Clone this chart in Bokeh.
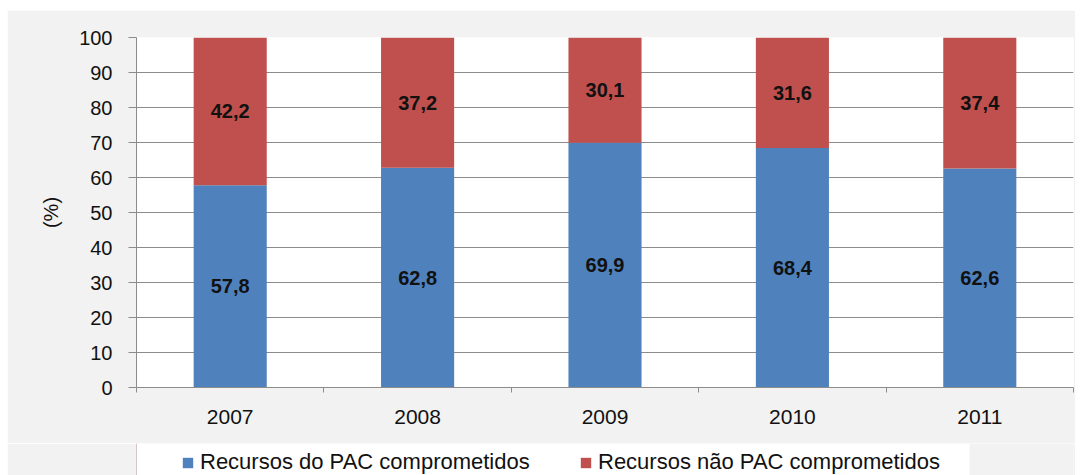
import numpy as np
from bokeh.plotting import figure
from bokeh.layouts import column
from bokeh.models import FixedTicker, Legend, LegendItem, ColumnDataSource, BoxAnnotation
from bokeh.core.properties import value
from bokeh.embed import file_html
from bokeh.resources import INLINE

years = ["2007", "2008", "2009", "2010", "2011"]
pac = [57.8, 62.8, 69.9, 68.4, 62.6]
nao_pac = [42.2, 37.2, 30.1, 31.6, 37.4]
y_ticks = [0, 10, 20, 30, 40, 50, 60, 70, 80, 90, 100]
series_names = ["Recursos do PAC comprometidos", "Recursos não PAC comprometidos"]

BLUE = "#4f81bd"
RED = "#c0504d"
FONT = "Liberation Sans"
TXT = "#111111"
BG = "#f2f2f2"
GRID = "#8c8c8c"

W, H, H_LEG = 1068, 433, 32
B_LEFT, B_RIGHT = 129, 2
FRAME_W = W - B_LEFT - B_RIGHT

xs = np.arange(len(years)) + 0.5
fmt = lambda v: f"{v:.1f}".replace(".", ",")

src = ColumnDataSource(dict(
    x=xs, pac=pac, nao=nao_pac,
    pac_mid=[v / 2 for v in pac],
    nao_mid=[a + b / 2 for a, b in zip(pac, nao_pac)],
    pac_lbl=[fmt(v) for v in pac],
    nao_lbl=[fmt(v) for v in nao_pac],
))

p = figure(width=W, height=H, x_range=(0, len(years)), y_range=(0, 100),
           output_backend="svg", toolbar_location=None,
           min_border_left=B_LEFT, min_border_right=B_RIGHT,
           min_border_top=27, min_border_bottom=56)
p.border_fill_color = BG
p.background_fill_color = "white"
p.outline_line_color = None

rs = p.vbar_stack(["pac", "nao"], x="x", width=0.39, source=src,
                  color=[BLUE, RED], line_color=None)

for ycol, lcol in (("pac_mid", "pac_lbl"), ("nao_mid", "nao_lbl")):
    p.text(x="x", y=ycol, text=lcol, source=src, text_align="center",
           text_baseline="middle", text_font=value(FONT), text_font_size="20px",
           text_font_style="bold", text_color=TXT)

# y axis
p.yaxis.ticker = FixedTicker(ticks=y_ticks)
p.yaxis.axis_label = "(%)"
p.yaxis.axis_label_text_font = FONT
p.yaxis.axis_label_text_font_size = "20px"
p.yaxis.axis_label_text_font_style = "normal"
p.yaxis.axis_label_text_color = TXT
p.yaxis.axis_label_standoff = 14
p.yaxis.major_label_text_font = FONT
p.yaxis.major_label_text_font_size = "20px"
p.yaxis.major_label_text_color = TXT
p.yaxis.major_label_standoff = 16
p.yaxis.major_tick_out = 8
p.yaxis.major_tick_in = 0
p.yaxis.minor_tick_line_color = None
p.yaxis.axis_line_color = GRID
p.yaxis.major_tick_line_color = GRID

# x axis (ticks at category boundaries, labels at centres)
p.xaxis.ticker = FixedTicker(ticks=list(xs), minor_ticks=list(range(len(years) + 1)))
p.xaxis.major_label_overrides = {float(x): y for x, y in zip(xs, years)}
p.xaxis.major_label_text_font = FONT
p.xaxis.major_label_text_font_size = "21px"
p.xaxis.major_label_text_color = TXT
p.xaxis.major_tick_line_color = None
p.xaxis.major_label_standoff = 16
p.xaxis.minor_tick_out = 5
p.xaxis.minor_tick_in = 0
p.xaxis.minor_tick_line_color = GRID
p.xaxis.axis_line_color = GRID

p.xgrid.grid_line_color = None
p.ygrid.grid_line_color = GRID
p.ygrid.grid_line_width = 1

# legend strip (same borders as the chart so frames line up; x in pixels)
pl = figure(width=W, height=H_LEG, x_range=(0, FRAME_W), y_range=(0, 1),
            x_axis_type=None, y_axis_type=None,
            output_backend="svg", toolbar_location=None,
            min_border_left=B_LEFT, min_border_right=B_RIGHT,
            min_border_top=0, min_border_bottom=0)
pl.border_fill_color = BG
pl.background_fill_color = BG
pl.outline_line_color = None
pl.xgrid.visible = False
pl.ygrid.visible = False
pl.add_layout(BoxAnnotation(left=0, right=833, fill_color="white", fill_alpha=1,
                            line_color=None))
r_blue = pl.vbar(x=[-50], top=[5], width=1, color=BLUE, line_color=None)
r_red = pl.vbar(x=[-50], top=[5], width=1, color=RED, line_color=None)

legend = Legend(items=[LegendItem(label=series_names[0], renderers=[r_blue]),
                       LegendItem(label=series_names[1], renderers=[r_red])],
                location=(45, 0), orientation="horizontal",
                background_fill_alpha=0, border_line_color=None,
                label_text_font=FONT, label_text_font_size="22px",
                label_text_color=TXT,
                glyph_width=13, glyph_height=13, label_standoff=6,
                label_width=379, spacing=0, padding=4, margin=0)
pl.add_layout(legend, "center")

layout = column(p, pl, spacing=0, margin=(10, 0, 0, 7))
open("out.html", "w").write(file_html(layout, INLINE))
